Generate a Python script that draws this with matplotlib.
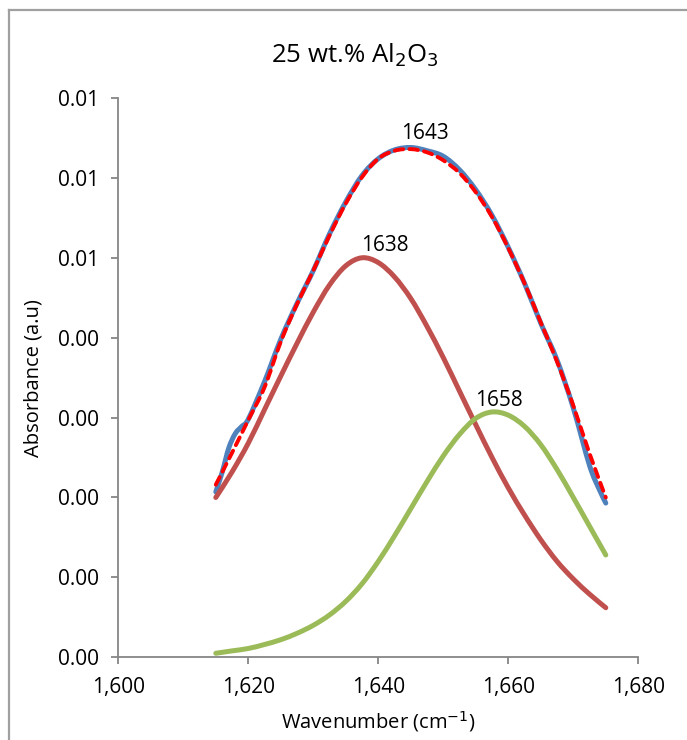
import numpy as np
from matplotlib import pyplot as plt
from matplotlib.lines import Line2D
from matplotlib.path import Path
from matplotlib.patches import PathPatch
from matplotlib.ticker import FuncFormatter

plt.rcParams['font.family'] = ['Open Sans', 'DejaVu Sans']

# measured spectrum (blue)
wn_meas = [1615, 1616, 1617, 1618, 1619, 1620, 1622.5, 1625, 1627.5, 1630,
           1632.5, 1635, 1637.5, 1640, 1642.5, 1645, 1647.5, 1650, 1652.5,
           1655, 1657.5, 1660, 1662.5, 1665, 1667.5, 1670, 1672.5, 1674, 1675]
abs_meas = [0.00207, 0.00232, 0.00262, 0.00280, 0.00289, 0.00298, 0.00345,
            0.00398, 0.00443, 0.00484, 0.00530, 0.00570, 0.00603, 0.00624,
            0.00635, 0.00638, 0.00634, 0.00627, 0.00610, 0.00585, 0.00553,
            0.00513, 0.00468, 0.00418, 0.00372, 0.00312, 0.00240, 0.00210,
            0.00193]

# fitted components on a common grid
wn_fit = [1615, 1617.5, 1620, 1622.5, 1625, 1627.5, 1630, 1632.5, 1635,
          1637.5, 1640, 1642.5, 1645, 1647.5, 1650, 1652.5, 1655, 1657.5,
          1660, 1662.5, 1665, 1667.5, 1670, 1672.5, 1675]
peak_1638 = [0.00200, 0.00232, 0.00268, 0.00310, 0.00352, 0.00393, 0.00432,
             0.00466, 0.00490, 0.00500, 0.00494, 0.00476, 0.00449, 0.00414,
             0.00375, 0.00333, 0.00291, 0.00250, 0.00212, 0.00178, 0.00147,
             0.00120, 0.00098, 0.00079, 0.00062]
peak_1658 = [0.00005, 0.00008, 0.00011, 0.00016, 0.00022, 0.00030, 0.00040,
             0.00053, 0.00070, 0.00092, 0.00120, 0.00152, 0.00186, 0.00220,
             0.00252, 0.00279, 0.00299, 0.00307, 0.00303, 0.00289, 0.00266,
             0.00235, 0.00200, 0.00164, 0.00128]
fit_sum = [0.00216, 0.00256, 0.00297, 0.00338, 0.00395, 0.00442, 0.00484,
           0.00528, 0.00568, 0.00601, 0.00624, 0.00634, 0.00636, 0.00632,
           0.00622, 0.00606, 0.00582, 0.00551, 0.00512, 0.00468, 0.00419,
           0.00370, 0.00315, 0.00255, 0.00200]

# peak labels: text, x, y
labels = [("1643", 1647.2, 0.00656), ("1638", 1641.0, 0.00515),
          ("1658", 1658.5, 0.00321)]


def smooth_path(x, y):
    # excel style smoothed line: bezier segments through every point
    p = np.column_stack([x, y]).astype(float)
    verts = [p[0]]
    codes = [Path.MOVETO]
    n = len(p)
    for i in range(n - 1):
        p0 = p[i - 1] if i > 0 else p[i]
        p3 = p[i + 2] if i + 2 < n else p[i + 1]
        c1 = p[i] + (p[i + 1] - p0) / 6
        c2 = p[i + 1] - (p3 - p[i]) / 6
        verts += [c1, c2, p[i + 1]]
        codes += [Path.CURVE4] * 3
    return Path(verts, codes)


fig = plt.figure(figsize=(6.87, 7.4), dpi=100)
ax = fig.add_axes([0.1722, 0.1118, 0.7569, 0.7558])

series = [(wn_meas, abs_meas, '#4F81BD', 3.6, '-'),
          (wn_fit, peak_1638, '#C0504D', 3.6, '-'),
          (wn_fit, peak_1658, '#9BBB59', 3.6, '-'),
          (wn_fit, fit_sum, '#FF0000', 2.8, (0, (2.2, 1.6)))]
for xs, ys, c, lw, ls in series:
    ax.add_patch(PathPatch(smooth_path(xs, ys), fill=False, edgecolor=c,
                           lw=lw, ls=ls, capstyle='round'))

for t, x, y in labels:
    ax.text(x, y, t, ha='center', va='center', fontsize=15)

ax.set_xlim(1600, 1680)
ax.set_ylim(0, 0.007)
ax.set_xticks(np.arange(1600, 1681, 20))
ax.set_yticks(np.arange(0, 0.0071, 0.001))
ax.xaxis.set_major_formatter(FuncFormatter(lambda v, p: '{:,.0f}'.format(v)))
ax.yaxis.set_major_formatter(FuncFormatter(lambda v, p: '{:.2f}'.format(v + 1e-9)))

for s in ['top', 'right']:
    ax.spines[s].set_visible(False)
for s in ['left', 'bottom']:
    ax.spines[s].set_color('#868686')
    ax.spines[s].set_linewidth(1.3)
ax.tick_params(colors='#868686', length=5, width=1.3, labelsize=15,
               labelcolor='black', pad=9)

ax.set_xlabel('Wavenumber (cm$^{-1}$)', fontsize=14.5, labelpad=8)
ax.set_ylabel('Absorbance (a.u)', fontsize=14.5, labelpad=10)
fig.text(0.517, 0.926, r'25 wt.% Al$_2$O$_3$', ha='center', va='center',
         fontsize=18.5)

# chart area border (top and left visible)
fig.add_artist(Line2D([9/687, 1], [1 - 10/740, 1 - 10/740], color='#A0A0A0',
                      lw=1.6, transform=fig.transFigure))
fig.add_artist(Line2D([9/687, 9/687], [0, 1 - 10/740], color='#A0A0A0',
                      lw=1.6, transform=fig.transFigure))

plt.savefig('out.png', dpi=100)
